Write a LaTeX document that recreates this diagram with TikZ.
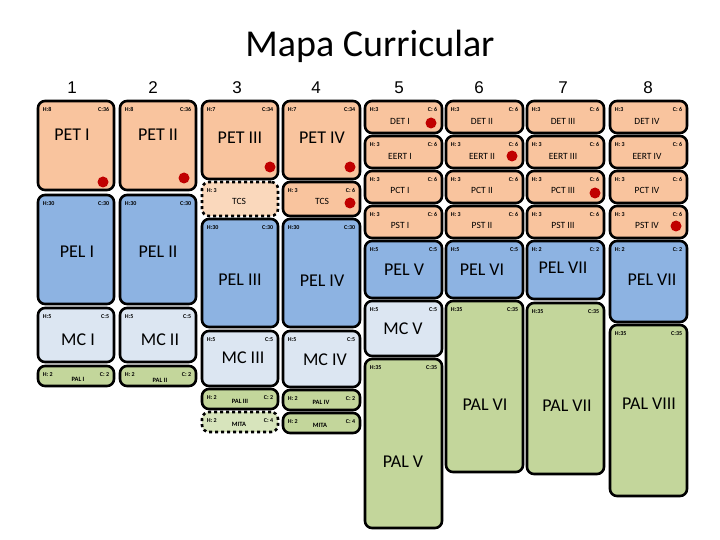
\documentclass[tikz,border=0pt]{standalone}
\usepackage{fontspec}
\setmainfont{Carlito}
\newfontfamily\arialf{Liberation Sans}
\definecolor{orng}{HTML}{F9C49E}
\definecolor{orngl}{HTML}{FAD8BC}
\definecolor{blu}{HTML}{8DB3E2}
\definecolor{blul}{HTML}{DCE6F2}
\definecolor{grn}{HTML}{C3D69B}
\definecolor{grnl}{HTML}{D7E4BC}
\definecolor{reddot}{HTML}{C00000}
\tikzset{
 box/.style={draw=black,line width=2.6pt,rounded corners=7pt,inner sep=0pt},
 hc/.style={font=\fontsize{6}{7}\selectfont\bfseries,inner sep=0pt},
 lab/.style={font=\fontsize{18}{20}\selectfont,inner sep=0pt},
 labs/.style={font=\fontsize{9.5}{11}\selectfont,inner sep=0pt},
 labt/.style={font=\fontsize{6.5}{7}\selectfont\bfseries,inner sep=0pt},
 num/.style={font=\arialf\fontsize{17}{19}\selectfont,inner sep=0pt},
 dot/.style={circle,fill=reddot,minimum size=11pt,inner sep=0pt},
}
\newcommand\bx[8]{%
 \node[box,#6,minimum width={#4pt-#2pt},minimum height={#5pt-#3pt}] (#1) at ({(#2+#4)/2},{(#3+#5)/2}) {};
 \node[hc,anchor=west] (#1h) at ([xshift=6pt,yshift=-10pt]#1.north west) {#7};
 \node[hc,anchor=east] (#1c) at ([xshift=-6pt,yshift=-10pt]#1.north east) {#8};}
\begin{document}
\begin{tikzpicture}[x=1pt,y=-1pt]
\useasboundingbox (0,0) rectangle (720,540);
\node[font=\fontsize{38}{40}\selectfont,inner sep=0pt] (title) at (370,46) {Mapa Curricular};
\foreach \n/\x in {1/72,2/153,3/237,4/316,5/399,6/479,7/563,8/648}
  \node[num] (n\n) at (\x,88) {\n};
% column 1
\bx{peti}{38}{101}{114}{190}{fill=orng}{H:8}{C:36}
\bx{peli}{38}{195}{114}{304}{fill=blu}{H:30}{C:30}
\bx{mci}{38}{308}{114}{362}{fill=blul}{H:5}{C:5}
\bx{pali}{38}{366}{114}{386}{fill=grn}{H: 2}{C: 2}
% column 2
\bx{petii}{120}{101}{196}{190}{fill=orng}{H:8}{C:36}
\bx{pelii}{120}{195}{196}{304}{fill=blu}{H:30}{C:30}
\bx{mcii}{120}{308}{196}{362}{fill=blul}{H:5}{C:5}
\bx{palii}{120}{366}{196}{386}{fill=grn}{H: 2}{C: 2}
% column 3
\bx{petiii}{202}{101}{278}{179}{fill=orng}{H:7}{C:34}
\bx{tcsiii}{202}{182}{278}{216}{fill=orngl,dashed}{H: 3}{}
\bx{peliii}{202}{219}{278}{327}{fill=blu}{H:30}{C:30}
\bx{mciii}{202}{331}{278}{386}{fill=blul}{H:5}{C:5}
\bx{paliii}{202}{389}{278}{409}{fill=grn}{H: 2}{C: 2}
\bx{mitaiii}{202}{412}{278}{432}{fill=grnl,dashed}{H: 2}{C: 4}
% column 4
\bx{petiv}{283}{101}{360}{179}{fill=orng}{H:7}{C:34}
\bx{tcsiv}{283}{182}{360}{216}{fill=orng}{H: 3}{C: 6}
\bx{peliv}{283}{219}{360}{327}{fill=blu}{H:30}{C:30}
\bx{mciv}{283}{331}{360}{387}{fill=blul}{H:5}{C:5}
\bx{paliv}{283}{390}{360}{410}{fill=grn}{H: 2}{C: 2}
\bx{mitaiv}{283}{413}{360}{433}{fill=grn}{H: 2}{C: 4}
% columns 5-8 small boxes
\foreach \c/\xa/\xb in {5/365/442,6/446/523,7/527/604,8/610/687}{
 \bx{det\c}{\xa}{101}{\xb}{133}{fill=orng}{H:3}{C: 6}
 \bx{eert\c}{\xa}{136}{\xb}{168}{fill=orng}{H: 3}{C: 6}
 \bx{pct\c}{\xa}{171}{\xb}{203}{fill=orng}{H: 3}{C: 6}
 \bx{pst\c}{\xa}{206}{\xb}{238}{fill=orng}{H: 3}{C: 6}
}
\bx{pelv}{365}{241}{442}{298}{fill=blu}{H:5}{C:5}
\bx{mcv}{365}{301}{442}{356}{fill=blul}{H:5}{C:5}
\bx{palv}{365}{359}{442}{528}{fill=grn}{H:35}{C:35}
\bx{pelvi}{446}{241}{523}{298}{fill=blu}{H:5}{C:5}
\bx{palvi}{446}{301}{523}{472}{fill=grn}{H:35}{C:35}
\bx{pelvii}{527}{241}{604}{299}{fill=blu}{H: 2}{C: 2}
\bx{palvii}{527}{303}{604}{474}{fill=grn}{H:35}{C:35}
\bx{pelviii}{610}{241}{687}{322}{fill=blu}{H: 2}{C: 2}
\bx{palviii}{610}{325}{687}{496}{fill=grn}{H:35}{C:35}
% labels
\node[lab] (l1) at (72,135) {PET I};
\node[lab] (l2) at (158,135) {PET II};
\node[lab] (l3) at (240,138) {PET III};
\node[lab] (l4) at (322,138) {PET IV};
\node[labs] (l5) at (239,201) {TCS};
\node[labs] (l6) at (322,201) {TCS};
\node[lab] (l7) at (77,252) {PEL I};
\node[lab] (l8) at (158,252) {PEL II};
\node[lab] (l9) at (240,280) {PEL III};
\node[lab] (l10) at (322,281) {PEL IV};
\node[lab] (l11) at (78,340) {MC I};
\node[lab] (l12) at (160,340) {MC II};
\node[lab] (l13) at (243,358) {MC III};
\node[lab] (l14) at (325,360) {MC IV};
\node[labt] (l15) at (78,379) {PAL I};
\node[labt] (l16) at (160,380) {PAL II};
\node[labt] (l17) at (240,401) {PAL III};
\node[labt] (l18) at (321,402) {PAL IV};
\node[labt] (l19) at (239,424) {MITA};
\node[labt] (l20) at (320,425) {MITA};
\foreach \c/\x/\r in {5/400/I,6/482/II,7/563/III,8/647/IV}{
 \node[labs] (det\c l) at (\x,121) {DET \r};
 \node[labs] (eert\c l) at (\x,156) {EERT \r};
 \node[labs] (pct\c l) at (\x,190) {PCT \r};
 \node[labs] (pst\c l) at (\x,225) {PST \r};
}
\node[lab] (l21) at (404,270) {PEL V};
\node[lab] (l22) at (482,270) {PEL VI};
\node[lab] (l23) at (563,268) {PEL VII};
\node[lab] (l24) at (652,280) {PEL VII};
\node[lab] (l25) at (403,329) {MC V};
\node[lab] (l26) at (403,462) {PAL V};
\node[lab] (l27) at (485,405) {PAL VI};
\node[lab] (l28) at (567,406) {PAL VII};
\node[lab] (l29) at (649,404) {PAL VIII};
% red dots
\node[dot] (d1) at (103,182) {};
\node[dot] (d2) at (184,178) {};
\node[dot] (d3) at (270,167) {};
\node[dot] (d4) at (350,167) {};
\node[dot] (d5) at (350,203) {};
\node[dot] (d6) at (431,123) {};
\node[dot] (d7) at (512,156) {};
\node[dot] (d8) at (595,193) {};
\node[dot] (d9) at (676,226) {};
\end{tikzpicture}
\end{document}
